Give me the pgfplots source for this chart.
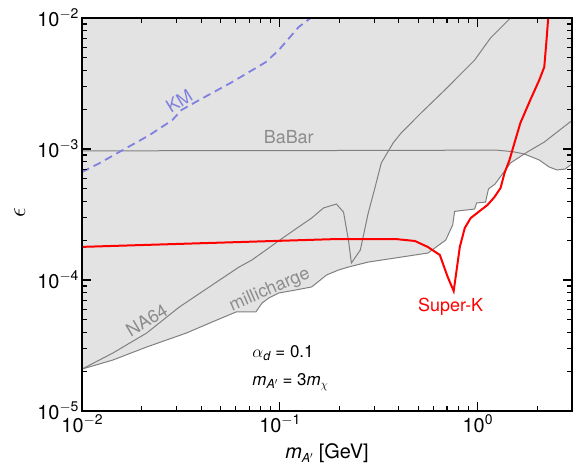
\documentclass[border=0pt]{standalone}
\usepackage{fontspec}
\setmainfont{TeX Gyre Heros}
\usepackage{pgfplots}
\pgfplotsset{compat=1.18}
\definecolor{exclFill}{HTML}{E3E3E3}
\definecolor{limGray}{HTML}{808080}
\definecolor{txtGray}{HTML}{8C8C8C}
\definecolor{kmPurple}{HTML}{8080E0}
\definecolor{skRed}{HTML}{FF0000}
\newcommand{\sups}[1]{\raisebox{0.42em}{\fontsize{14}{14}\selectfont #1}}
\newcommand{\subs}[1]{\raisebox{-0.22em}{\fontsize{12.5}{13}\selectfont #1}}

\begin{document}
\begin{tikzpicture}
\path[use as bounding box] (-82bp,-53bp) rectangle (492bp,411bp);
\begin{axis}[
  scale only axis, width=490bp, height=393bp,
  xmode=log, ymode=log,
  xmin=0.01, xmax=3, ymin=1e-5, ymax=1e-2,
  xtick={0.01,0.1,1},
  xticklabels={10\sups{$-$2},10\sups{$-$1},10\sups{0}},
  ytick={1e-5,1e-4,1e-3,1e-2},
  yticklabels={10\sups{$-$5},10\sups{$-$4},10\sups{$-$3},10\sups{$-$2}},
  extra x ticks={0.02,0.03,0.04,0.05,0.06,0.07,0.08,0.09,
               0.2,0.3,0.4,0.5,0.6,0.7,0.8,0.9,2,3},
  extra x tick labels={},
  extra y ticks={2e-5,3e-5,4e-5,5e-5,6e-5,7e-5,8e-5,9e-5,
               2e-4,3e-4,4e-4,5e-4,6e-4,7e-4,8e-4,9e-4,
               2e-3,3e-3,4e-3,5e-3,6e-3,7e-3,8e-3,9e-3},
  extra y tick labels={},
  extra tick style={major tick length=5bp},
  xtick pos=both, ytick pos=both,
  tick align=inside,
  major tick length=9bp,
  every major tick/.append style={black, line width=1.1bp},
  every tick/.append style={black, line width=1.1bp},
  axis line style={black, line width=1.2bp},
  tick label style={font=\fontsize{20}{24}\selectfont},
  axis on top,
  xlabel={\textit{m}\subs{\textit{A}$'$} [GeV]},
  ylabel={$\epsilon$},
  x label style={at={(axis description cs:0.5,-0.107)},anchor=center,
    font=\fontsize{20}{24}\selectfont},
  y label style={at={(axis description cs:-0.127,0.504)},anchor=center,
    font=\fontsize{27}{28}\selectfont},
]

% excluded region
\addplot[draw=none, fill=exclFill] coordinates {
  (0.01,1e-2) (0.01,2.09e-5)
  (0.01432,2.45e-5) (0.02123,3.08e-5) (0.03373,3.94e-5) (0.04550,4.78e-5)
  (0.06012,5.70e-5) (0.07568,5.70e-5) (0.08128,6.67e-5) (0.08810,7.30e-5)
  (0.09886,7.96e-5) (0.1202,8.39e-5) (0.1449,8.85e-5) (0.1722,1.091e-4)
  (0.1977,1.191e-4) (0.2223,1.256e-4) (0.2799,1.371e-4) (0.3828,1.472e-4)
  (0.5610,1.607e-4) (0.6902,2.018e-4) (0.7482,2.630e-4) (0.7656,3.342e-4)
  (0.9661,3.483e-4) (0.9886,3.873e-4) (1.0965,3.936e-4) (1.135,4.955e-4)
  (1.2246,5.395e-4) (1.4655,7.816e-4) (1.722,9.16e-4)
  (2.05,8.24e-4) (2.30,7.29e-4) (2.52,6.92e-4) (2.77,7.03e-4) (3,7.7e-4)
  (3,1e-2)
};

% BaBar
\addplot[limGray, line width=1bp] coordinates {
  (0.01,9.68e-4) (0.3,9.75e-4) (1.0,9.80e-4) (1.23,9.82e-4) (1.50,9.55e-4)
  (1.722,9.16e-4) (2.05,8.24e-4) (2.30,7.29e-4) (2.52,6.92e-4) (2.77,7.03e-4)
  (3,7.7e-4)
};

% millicharge
\addplot[limGray, line width=1bp] coordinates {
  (0.01,2.09e-5)
  (0.01432,2.45e-5) (0.02123,3.08e-5) (0.03373,3.94e-5) (0.04550,4.78e-5)
  (0.06012,5.70e-5) (0.07568,5.70e-5) (0.08128,6.67e-5) (0.08810,7.30e-5)
  (0.09886,7.96e-5) (0.1202,8.39e-5) (0.1449,8.85e-5) (0.1722,1.091e-4)
  (0.1977,1.191e-4) (0.2223,1.256e-4) (0.2799,1.371e-4) (0.3828,1.472e-4)
  (0.5610,1.607e-4) (0.6902,2.018e-4) (0.7482,2.630e-4) (0.7656,3.342e-4)
  (0.9661,3.483e-4) (0.9886,3.873e-4) (1.0965,3.936e-4) (1.135,4.955e-4)
  (1.2246,5.395e-4) (1.4655,7.816e-4) (1.782,9.48e-4) (2.173,1.130e-3)
  (2.931,1.607e-3) (3,1.64e-3)
};

% NA64 and the rising limit
\addplot[limGray, line width=1bp] coordinates {
  (0.01,2.09e-5) (0.01432,2.77e-5) (0.02123,3.94e-5) (0.03105,6.22e-5)
  (0.04550,9.16e-5) (0.06223,1.256e-4) (0.07228,1.422e-4) (0.08511,1.694e-4)
  (0.09886,1.995e-4) (0.1245,2.541e-4) (0.1449,2.972e-4) (0.1663,3.548e-4)
  (0.1932,3.802e-4) (0.2099,3.304e-4) (0.2223,2.018e-4) (0.2301,1.349e-4)
  (0.2553,1.694e-4) (0.2799,3.243e-4) (0.3034,5.13e-4) (0.3258,7.82e-4)
  (0.3741,1.112e-3) (0.4102,1.324e-3) (0.5176,1.884e-3) (0.6823,2.818e-3)
  (0.9661,4.775e-3) (1.161,7.03e-3) (1.466,1e-2)
};

% KM
\addplot[kmPurple, line width=1.8bp, dash pattern=on 8bp off 5bp] coordinates {
  (0.01,6.67e-4) (0.01230,7.82e-4) (0.01607,9.82e-4) (0.02198,1.279e-3)
  (0.02864,1.663e-3) (0.03184,1.986e-3) (0.03917,2.366e-3) (0.05741,3.243e-3)
  (0.08511,4.613e-3) (0.0989,5.70e-3) (0.1245,8.53e-3) (0.1432,1e-2)
};

% Super-K
\addplot[skRed, line width=2bp] coordinates {
  (0.01,1.79e-4) (0.1977,2.056e-4) (0.3828,2.056e-4) (0.4819,1.986e-4)
  (0.5610,1.786e-4) (0.6442,1.552e-4) (0.7063,1.054e-4) (0.7568,8.24e-5)
  (0.7745,1.054e-4) (0.8128,1.786e-4) (0.8610,2.495e-4) (0.9226,2.972e-4)
  (1.122,3.741e-4) (1.217,4.30e-4) (1.306,5.04e-4) (1.368,6.56e-4)
  (1.449,8.24e-4) (1.535,1.11e-3) (1.645,1.58e-3) (1.847,2.37e-3)
  (2.051,3.37e-3) (2.173,4.23e-3) (2.224,6.44e-3) (2.275,1e-2)
};

\node[kmPurple, rotate=32, font=\fontsize{18}{20}\selectfont] at (axis cs:0.0310,0.00232) {KM};
\node[txtGray, font=\fontsize{18}{20}\selectfont] at (axis cs:0.111,0.001236) {BaBar};
\node[txtGray, rotate=31, font=\fontsize{18}{20}\selectfont] at (axis cs:0.02123,0.0000495) {NA64};
\node[txtGray, rotate=23.5, font=\fontsize{18}{20}\selectfont] at (axis cs:0.0891,0.0000839) {millicharge};
\node[skRed, font=\fontsize{18}{20}\selectfont] at (axis cs:0.731,0.0000622) {Super-K};
\node[anchor=west, font=\fontsize{17}{20}\selectfont] at (axis cs:0.0698,0.0000277) {$\alpha$\subs{\textit{d}} = 0.1};
\node[anchor=west, font=\fontsize{17}{20}\selectfont] at (axis cs:0.0698,0.0000166) {\textit{m}\subs{\textit{A}$'$} = 3\textit{m}\subs{$\chi$}};
\end{axis}
\end{tikzpicture}
\end{document}
